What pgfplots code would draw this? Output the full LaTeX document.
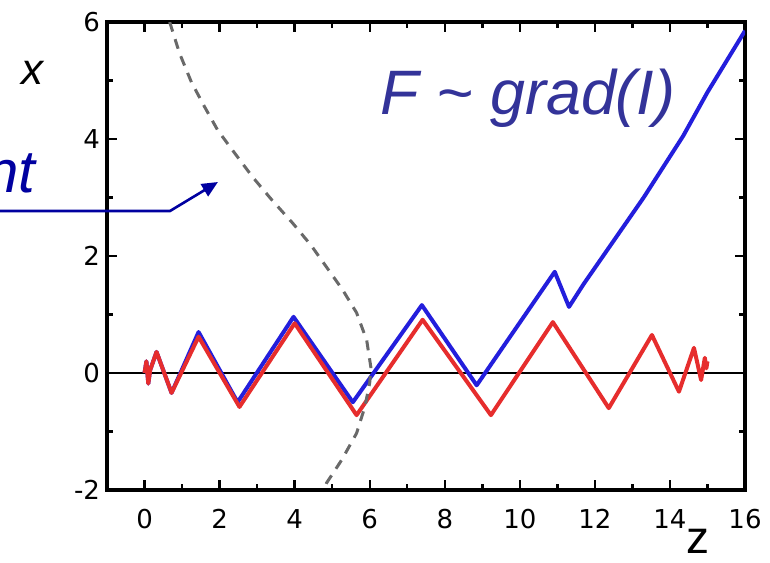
\documentclass[border=0pt]{standalone}
\usepackage{pgfplots}
\pgfplotsset{compat=1.18}
\usepackage{fontspec}
\setmainfont{Liberation Sans}
\newfontfamily\dejavu{DejaVu Sans}
\usetikzlibrary{arrows.meta}
\definecolor{fblue}{RGB}{51,51,153}
\definecolor{ablue}{RGB}{0,0,160}
\definecolor{cblue}{RGB}{35,30,220}
\definecolor{cred}{RGB}{230,45,45}
\definecolor{dgray}{RGB}{105,105,105}
\begin{document}
\begin{tikzpicture}
\clip (0,0) rectangle (385pt,281pt);
\begin{axis}[at={(53.5pt,36pt)}, anchor=south west, scale only axis,
  width=319pt, height=234pt,
  xmin=-1, xmax=16, ymin=-2, ymax=6,
  xtick={0,2,...,16}, xticklabels={0,2,4,6,8,10,12,14,16},
  ytick={-2,0,2,4,6}, yticklabels={-2,0,2,4,6},
  minor xtick={1,3,...,15}, minor ytick={-1,1,3,5},
  tick align=inside, major tick length=5pt, minor tick length=3pt,
  every tick/.style={black, line width=1.2pt},
  axis line style={line width=1.6pt},
  tick label style={font=\dejavu\fontsize{13}{15}\selectfont},
  xticklabel style={yshift=-6pt},
  clip=true]
\addplot[black, line width=1pt] coordinates {(-1,0) (16,0)};
\addplot[cblue, line width=2pt, line join=round] coordinates {
(0,0) (0.05,0.2) (0.1,-0.18) (0.15,0.05) (0.32,0.36) (0.72,-0.34) (1.44,0.70)
(2.48,-0.50) (3.97,0.96) (5.55,-0.50) (7.39,1.16) (8.85,-0.21) (10.93,1.73)
(11.31,1.13) (11.7,1.52) (13.3,3.0) (14.35,4.05) (15.0,4.8) (16.0,5.85)};
\addplot[cred, line width=2pt, line join=round] coordinates {
(0,0) (0.05,0.2) (0.1,-0.18) (0.15,0.05) (0.32,0.36) (0.72,-0.34) (1.44,0.62)
(2.53,-0.58) (4.0,0.85) (5.65,-0.72) (7.41,0.91) (9.23,-0.72) (10.88,0.87)
(12.37,-0.6) (13.52,0.65) (14.24,-0.32) (14.64,0.43) (14.83,-0.12) (14.93,0.26)
(14.97,0.08) (15.0,0.2)};
\addplot[dgray, line width=1.5pt, dash pattern=on 5pt off 4pt] coordinates {
(0.67,6.0) (0.93,5.47) (1.25,4.97) (1.6,4.55) (1.95,4.15) (2.4,3.76) (2.88,3.35)
(3.39,2.96) (3.95,2.56) (4.44,2.18) (4.85,1.81) (5.28,1.42) (5.65,1.03)
(5.92,0.56) (6.03,0.10) (6.0,-0.17) (5.87,-0.58) (5.65,-1.03) (5.25,-1.49)
(4.85,-1.88) (4.78,-2.0)};
\end{axis}
\draw[ablue, line width=1.3pt, -{Triangle[length=8pt,width=7pt]}]
  (0,175.5pt) -- (85pt,175.5pt) -- (109pt,190pt);
\node[anchor=base west, inner sep=0, text=ablue,
  font=\fontsize{30}{36}\selectfont\itshape] at (-7.5pt,184.5pt) {nt};
\node[anchor=base, inner sep=0, font=\fontsize{22}{26}\selectfont\itshape]
  at (16pt,238.5pt) {x};
\node[anchor=base, inner sep=0, font=\fontsize{23}{26}\selectfont]
  at (349pt,4.5pt) {z};
\node[anchor=base west, inner sep=0, text=fblue,
  font=\fontsize{31.4}{36}\selectfont\itshape] at (190pt,223.5pt)
  {F \textasciitilde{} grad(I)};
\end{tikzpicture}
\end{document}
